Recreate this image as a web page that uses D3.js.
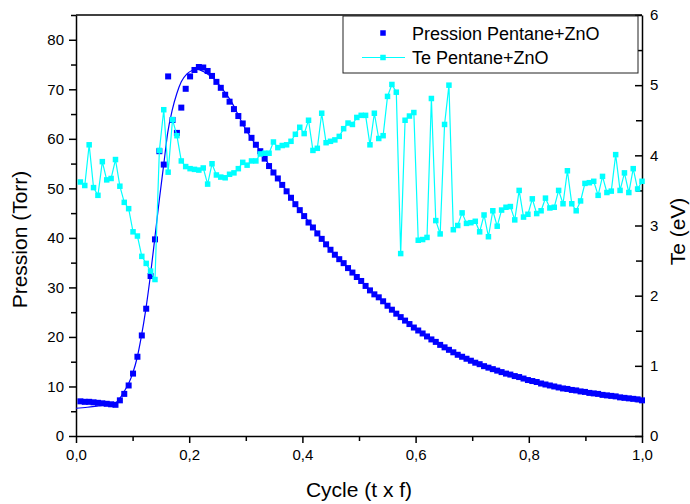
<!DOCTYPE html>
<html>
<head>
<meta charset="utf-8">
<script src="https://cdn.jsdelivr.net/npm/d3@7"></script>
<style>
    html, body { margin: 0; padding: 0; background: #fff; }
    svg { display: block; font-family: "Liberation Sans", Arial, sans-serif; }
</style>
</head>
<body>
<div id="chart"></div>
<script>
// Sampling grid of the cycle (129 samples per period)
const cycle = d3.range(1, 130).map(i => i / 129);

// Pressure (Torr), left axis
const pression = [
    7.0, 6.9, 6.9, 6.8, 6.7, 6.6, 6.5, 6.4, 6.3, 7.2,
    8.5, 10.2, 12.6, 16.0, 20.3, 25.7, 32.3, 39.7, 57.5, 54.8,
    72.6, 63.8, 61.2, 66.3, 70.1, 72.6, 73.9, 74.5, 74.4, 73.7,
    72.7, 71.5, 70.3, 68.9, 67.5, 66.0, 64.6, 63.1, 61.7, 60.2,
    58.8, 57.5, 56.0, 54.5, 53.2, 52.0, 50.7, 49.4, 48.1, 46.8,
    45.6, 44.4, 43.1, 42.1, 40.9, 39.8, 38.7, 37.6, 36.6, 35.7,
    34.9, 33.9, 33.0, 32.1, 31.3, 30.3, 29.4, 28.6, 28.0, 27.2,
    26.3, 25.5, 24.7, 24.0, 23.3, 22.6, 21.9, 21.3, 20.7, 20.1,
    19.5, 19.0, 18.4, 17.9, 17.4, 16.9, 16.4, 16.0, 15.6, 15.2,
    14.8, 14.5, 14.1, 13.8, 13.5, 13.2, 12.9, 12.6, 12.4, 12.1,
    11.9, 11.6, 11.3, 11.1, 10.9, 10.6, 10.4, 10.2, 10.0, 9.8,
    9.6, 9.5, 9.3, 9.2, 9.0, 8.9, 8.7, 8.6, 8.5, 8.3,
    8.2, 8.1, 8.0, 7.8, 7.7, 7.6, 7.5, 7.4, 7.2
];

// Electron temperature (eV), right axis
const te = [
    3.62, 3.57, 4.15, 3.54, 3.43, 3.91, 3.65, 3.67, 3.94, 3.56,
    3.33, 3.24, 2.91, 2.85, 2.56, 2.46, 2.35, 2.23, 4.07, 4.65,
    3.76, 4.51, 4.28, 3.92, 3.84, 3.81, 3.80, 3.79, 3.82, 3.59,
    3.88, 3.72, 3.69, 3.68, 3.73, 3.75, 3.81, 3.90, 3.86, 3.92,
    3.92, 4.02, 4.03, 4.03, 4.19, 4.11, 4.14, 4.15, 4.20, 4.30,
    4.40, 4.31, 4.50, 4.07, 4.10, 4.60, 4.18, 4.20, 4.22, 4.27,
    4.38, 4.46, 4.44, 4.54, 4.57, 4.57, 4.15, 4.60, 4.24, 4.28,
    4.84, 5.01, 4.90, 2.60, 4.50, 4.56, 4.61, 2.79, 2.80, 2.83,
    4.81, 3.07, 2.88, 4.44, 5.00, 2.94, 3.00, 3.18, 3.03, 3.04,
    3.06, 2.91, 3.15, 2.84, 3.21, 2.99, 3.22, 3.26, 3.27, 3.08,
    3.50, 3.12, 3.16, 3.38, 3.17, 3.21, 3.39, 3.25, 3.26, 3.50,
    3.31, 3.78, 3.31, 3.21, 3.35, 3.60, 3.61, 3.63, 3.43, 3.70,
    3.47, 3.49, 4.01, 3.50, 3.75, 3.47, 3.81, 3.52, 3.63
];

// Fitted pressure curve (thin blue line)
const fitCycle = [
    0.0, 0.02, 0.04, 0.06, 0.07, 0.078, 0.085, 0.093, 0.10, 0.108,
    0.115, 0.123, 0.131, 0.139, 0.147, 0.155, 0.162, 0.17, 0.178, 0.186,
    0.196, 0.205, 0.215, 0.225, 0.235, 0.245, 0.255, 0.265, 0.275, 0.285,
    0.295, 0.31, 0.33, 0.35, 0.37, 0.39, 0.42, 0.45, 0.48, 0.51,
    0.55, 0.60, 0.65, 0.70, 0.75, 0.80, 0.85, 0.90, 0.95, 1.0
];
const fitPression = [
    5.6, 5.8, 6.1, 6.4, 6.7, 7.7, 9.0, 10.6, 12.6, 15.8,
    19.8, 25.3, 32.0, 39.7, 47.5, 54.8, 61.2, 65.8, 69.1, 71.5,
    73.1, 73.8, 74.0, 73.6, 72.9, 72.0, 70.6, 69.1, 67.4, 65.2,
    62.9, 60.1, 56.8, 53.0, 49.8, 46.4, 42.0, 37.5, 34.0, 30.5,
    26.3, 21.6, 18.0, 15.1, 13.0, 11.3, 9.9, 8.9, 8.0, 7.2
];

const xTicks = [0, 0.2, 0.4, 0.6, 0.8, 1.0];
const xTickLabels = ['0,0', '0,2', '0,4', '0,6', '0,8', '1,0'];
const xMinorTicks = [0.1, 0.3, 0.5, 0.7, 0.9];
const leftTicks = [0, 10, 20, 30, 40, 50, 60, 70, 80];
const leftMinorTicks = [5, 15, 25, 35, 45, 55, 65, 75, 85];
const rightTicks = [0, 1, 2, 3, 4, 5, 6];
const rightMinorTicks = [0.5, 1.5, 2.5, 3.5, 4.5, 5.5];
const legendLabels = ['Pression Pentane+ZnO', 'Te Pentane+ZnO'];

const BLUE = '#0000ff';
const CYAN = '#00ffff';

const width = 690;
const height = 504;
const margin = { top: 15, right: 48, bottom: 68, left: 76 };
const innerW = width - margin.left - margin.right;
const innerH = height - margin.top - margin.bottom;

const svg = d3.select('#chart')
    .append('svg')
    .attr('width', width)
    .attr('height', height);

const g = svg.append('g')
    .attr('transform', `translate(${margin.left},${margin.top})`);

const x = d3.scaleLinear().domain([0, 1]).range([0, innerW]);
const yLeft = d3.scaleLinear().domain([0, 85]).range([innerH, 0]);
const yRight = d3.scaleLinear().domain([0, 6]).range([innerH, 0]);

// Style an axis group: black lines, tick text
function styleAxis(sel, fontSize) {
    sel.selectAll('path, line').attr('stroke', '#000').attr('stroke-width', 1.5);
    sel.selectAll('text').attr('fill', '#000').attr('font-size', fontSize);
    sel.attr('font-family', null);
}

// Top frame line
g.append('line')
    .attr('x1', 0).attr('x2', innerW)
    .attr('y1', 0).attr('y2', 0)
    .attr('stroke', '#000')
    .attr('stroke-width', 1.5);

// Bottom axis
g.append('g')
    .attr('transform', `translate(0,${innerH})`)
    .call(d3.axisBottom(x).tickValues(xMinorTicks).tickFormat('').tickSize(5).tickSizeOuter(0))
    .call(s => s.select('.domain').remove())
    .call(s => styleAxis(s, 15));

g.append('g')
    .attr('transform', `translate(0,${innerH})`)
    .call(d3.axisBottom(x).tickValues(xTicks).tickFormat((d, i) => xTickLabels[i]).tickSize(7).tickSizeOuter(0).tickPadding(6))
    .call(s => styleAxis(s, 15));

// Left axis
g.append('g')
    .call(d3.axisLeft(yLeft).tickValues(leftMinorTicks).tickFormat('').tickSize(5).tickSizeOuter(0))
    .call(s => s.select('.domain').remove())
    .call(s => styleAxis(s, 15));

g.append('g')
    .call(d3.axisLeft(yLeft).tickValues(leftTicks).tickSize(7).tickSizeOuter(0).tickPadding(5))
    .call(s => styleAxis(s, 15));

// Right axis, ticks pointing inward
g.append('g')
    .attr('transform', `translate(${innerW},0)`)
    .call(d3.axisRight(yRight).tickValues(rightMinorTicks).tickFormat('').tickSize(-6).tickSizeOuter(0))
    .call(s => s.select('.domain').remove())
    .call(s => styleAxis(s, 15));

g.append('g')
    .attr('transform', `translate(${innerW},0)`)
    .call(d3.axisRight(yRight).tickValues(rightTicks).tickFormat(d3.format('d')).tickSize(-7).tickSizeOuter(0).tickPadding(8))
    .call(s => styleAxis(s, 15));

// Axis titles
svg.append('text')
    .attr('x', margin.left + innerW / 2)
    .attr('y', 497)
    .attr('text-anchor', 'middle')
    .attr('font-size', 21)
    .text('Cycle (t x f)');

svg.append('text')
    .attr('transform', `translate(27,${margin.top + innerH / 2 + 14}) rotate(-90)`)
    .attr('text-anchor', 'middle')
    .attr('font-size', 21)
    .text('Pression (Torr)');

svg.append('text')
    .attr('transform', `translate(685,${margin.top + innerH / 2 + 6}) rotate(-90)`)
    .attr('text-anchor', 'middle')
    .attr('font-size', 21)
    .text('Te (eV)');

// Fitted pressure curve
const fitLine = d3.line()
    .x((d, i) => x(fitCycle[i]))
    .y(d => yLeft(d))
    .curve(d3.curveMonotoneX);

g.append('path')
    .datum(fitPression)
    .attr('fill', 'none')
    .attr('stroke', BLUE)
    .attr('stroke-width', 1.2)
    .attr('d', fitLine);

// Pressure squares
const sq = 5.5;
const sqP = 6;
g.selectAll('.p-point')
    .data(pression)
    .enter()
    .append('rect')
    .attr('class', 'p-point')
    .attr('x', (d, i) => x(cycle[i]) - sqP / 2)
    .attr('y', d => yLeft(d) - sqP / 2)
    .attr('width', sqP)
    .attr('height', sqP)
    .attr('fill', BLUE);

// Te line + squares
const teLine = d3.line()
    .x((d, i) => x(cycle[i]))
    .y(d => yRight(d));

g.append('path')
    .datum(te)
    .attr('fill', 'none')
    .attr('stroke', CYAN)
    .attr('stroke-width', 1.2)
    .attr('d', teLine);

g.selectAll('.te-point')
    .data(te)
    .enter()
    .append('rect')
    .attr('class', 'te-point')
    .attr('x', (d, i) => x(cycle[i]) - sq / 2)
    .attr('y', d => yRight(d) - sq / 2)
    .attr('width', sq)
    .attr('height', sq)
    .attr('fill', CYAN);

// Legend
const legend = svg.append('g').attr('transform', 'translate(343,16)');

legend.append('rect')
    .attr('width', 295)
    .attr('height', 57)
    .attr('fill', '#fff')
    .attr('stroke', '#222')
    .attr('stroke-width', 1);

legend.append('rect')
    .attr('x', 40 - sq / 2).attr('y', 17 - sq / 2)
    .attr('width', sq).attr('height', sq)
    .attr('fill', BLUE);

legend.append('line')
    .attr('x1', 19).attr('x2', 62)
    .attr('y1', 41.5).attr('y2', 41.5)
    .attr('stroke', CYAN)
    .attr('stroke-width', 1.2);

legend.append('rect')
    .attr('x', 40 - sq / 2).attr('y', 41.5 - sq / 2)
    .attr('width', sq).attr('height', sq)
    .attr('fill', CYAN);

legend.selectAll('.legend-label')
    .data(legendLabels)
    .enter()
    .append('text')
    .attr('class', 'legend-label')
    .attr('x', 69)
    .attr('y', (d, i) => 23.5 + i * 24)
    .attr('font-size', 18)
    .text(d => d);
</script>
</body>
</html>
